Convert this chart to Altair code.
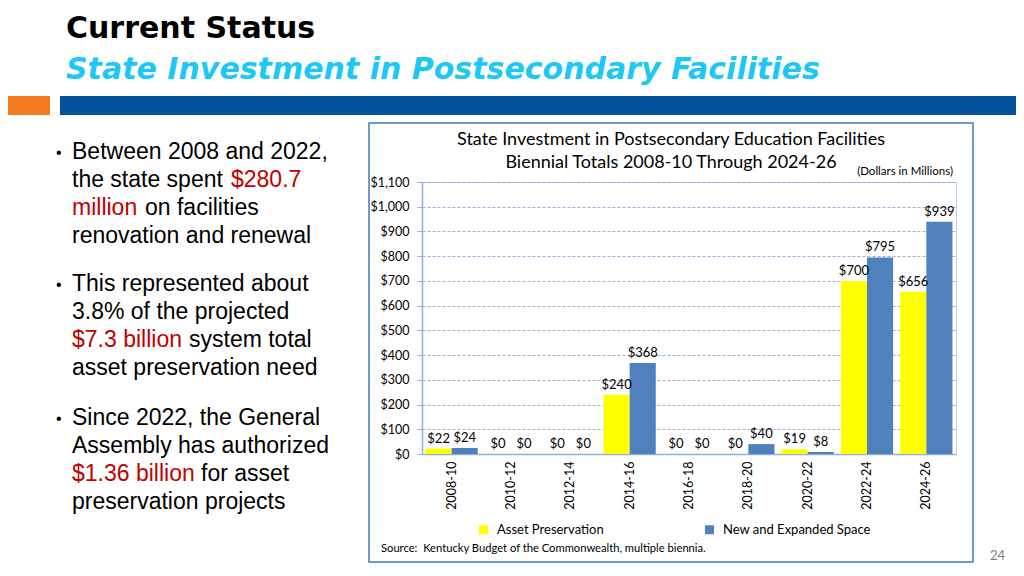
import altair as alt
import pandas as pd

# ---------------- data ----------------
periods = ["2008-10", "2010-12", "2012-14", "2014-16", "2016-18",
           "2018-20", "2020-22", "2022-24", "2024-26"]
asset_preservation = [22, 0, 0, 240, 0, 0, 19, 700, 656]
new_expanded = [24, 0, 0, 368, 0, 40, 8, 795, 939]
series_names = ["Asset Preservation", "New and Expanded Space"]
series_colors = ["#FFFF00", "#4F81BD"]
y_ticks = list(range(0, 1101, 100))

slide_title = "Current Status"
slide_subtitle = "State Investment in Postsecondary Facilities"
chart_title = ["State Investment in Postsecondary Education Facilities",
               "Biennial Totals 2008-10 Through 2024-26"]
units_note = "(Dollars in Millions)"
source_note = "Source:\u00a0\u00a0Kentucky Budget of the Commonwealth, multiple biennia."
page_number = "24"

BLACK = "#000000"
RED = "#C00000"
# each bullet line: list of (text, colour) segments
bullet_lines = [
    [("Between 2008 and 2022,", BLACK)],
    [("the state spent", BLACK), ("$280.7", RED)],
    [("million", RED), ("on facilities", BLACK)],
    [("renovation and renewal", BLACK)],
    [("This represented about", BLACK)],
    [("3.8% of the projected", BLACK)],
    [("$7.3 billion", RED), ("system total", BLACK)],
    [("asset preservation need", BLACK)],
    [("Since 2022, the General", BLACK)],
    [("Assembly has authorized", BLACK)],
    [("$1.36 billion", RED), ("for asset", BLACK)],
    [("preservation projects", BLACK)],
]

rows = []
for i, p in enumerate(periods):
    rows.append({"period": p, "series": series_names[0], "value": asset_preservation[i]})
    rows.append({"period": p, "series": series_names[1], "value": new_expanded[i]})
df = pd.DataFrame(rows)

# ---------------- layout (pixels relative to plot origin) ----------------
W, H = 534, 272
bullet_baselines = [-23, 5, 33, 61, 109, 137, 165, 193, 243, 271, 299, 327]
bullet_first_lines = [0, 4, 8]
seg_x = [[-350], [-350, -191], [-350, -277], [-350], [-350], [-350],
         [-350, -233], [-350], [-350], [-350], [-350, -221], [-350]]

one = pd.DataFrame({"k": [0]})


def txt(s, x, y, size, color="black", font="Lato", weight="normal",
        style="normal", align="left", baseline="alphabetic"):
    return alt.Chart(one).mark_text(
        text=s, align=align, baseline=baseline, fontSize=size, font=font,
        fontWeight=weight, fontStyle=style, color=color
    ).encode(x=alt.value(x), y=alt.value(y))


def box(x1, x2, y1, y2, fill=None, stroke=None, sw=1.0):
    kw = {}
    if fill is not None:
        kw["fill"] = fill
    else:
        kw["fillOpacity"] = 0
    if stroke is not None:
        kw["stroke"] = stroke
        kw["strokeWidth"] = sw
    return alt.Chart(one).mark_rect(**kw).encode(
        x=alt.value(x1), x2=alt.value(x2), y=alt.value(y1), y2=alt.value(y2))


layers = []
# chart frame
layers.append(box(-53, 551, -59, 380, stroke="#3E7BBF", sw=1.5))
# slide header
layers.append(txt(slide_title, -356, -144, 30, font="DejaVu Sans", weight="bold"))
layers.append(txt(slide_subtitle, -356, -103, 30, color="#1EC8F5",
                  font="DejaVu Sans", weight="bold", style="italic"))
layers.append(box(-414, -372, -86, -67, fill="#F47B20"))
layers.append(box(-362, 594, -86, -67, fill="#03529B"))

# bullets
for i, line in enumerate(bullet_lines):
    for (s, c), x in zip(line, seg_x[i]):
        layers.append(txt(s, x, bullet_baselines[i], 23, color=c, font="Liberation Sans"))
for i in bullet_first_lines:
    layers.append(txt("•", -366, bullet_baselines[i] - 1, 16, font="Liberation Sans"))

# chart texts
layers.append(txt(chart_title[0], 249, -37, 18, align="center"))
layers.append(txt(chart_title[1], 249, -14, 18, align="center"))
layers.append(txt(units_note, 531, -7, 11.5, align="right"))
layers.append(txt(source_note, -41, 370, 11.2))
layers.append(txt(page_number, 568, 378, 13, color="#808080"))

# ---------------- bars ----------------
x_enc = alt.X("period:N", sort=periods,
              scale=alt.Scale(paddingInner=0.12, paddingOuter=0.06),
              axis=alt.Axis(title=None, labelAngle=-90, ticks=False, labelPadding=7,
                            labelFontSize=12.5, labelColor="black", labelFont="Lato",
                            domainColor="#8DB3E2", domainWidth=1.5))
y_enc = alt.Y("value:Q", scale=alt.Scale(domain=[0, 1100], nice=False),
              axis=alt.Axis(title=None, values=y_ticks, format="$,.0f", grid=True,
                            gridDash=[3, 2], gridColor="#95B3D7", gridWidth=1,
                            tickSize=5, tickColor="#8DB3E2", labelPadding=8,
                            labelOverlap=False, labelFontSize=12.5, labelColor="black",
                            labelFont="Lato", domainColor="#8DB3E2", domainWidth=1.5))
xoff = alt.XOffset("series:N", sort=series_names)
color = alt.Color("series:N", sort=series_names,
                  scale=alt.Scale(domain=series_names, range=series_colors),
                  legend=alt.Legend(title=None, orient="none", legendX=55, legendY=341,
                                    direction="horizontal", symbolType="square",
                                    symbolSize=81, symbolStrokeWidth=0, padding=0,
                                    labelFontSize=13, labelFont="Lato",
                                    labelOffset=7, columnPadding=99))

bars = alt.Chart(df).mark_bar().encode(x=x_enc, y=y_enc, xOffset=xoff, color=color)
labels = alt.Chart(df).mark_text(baseline="bottom", dy=-3, fontSize=13,
                                 font="Lato", color="black").encode(
    x=x_enc, xOffset=xoff, y=y_enc,
    text=alt.Text("value:Q", format="$,.0f"))

chart = alt.layer(*layers, bars, labels).properties(
    width=W, height=H,
    autosize=alt.AutoSizeParams(type="none"),
    padding={"left": 414, "top": 174, "right": 60, "bottom": 114},
    background="white",
).configure_view(stroke="#B9CDE5", strokeWidth=1)

chart.save("out.html", embed_options={"renderer": "svg", "actions": False})
